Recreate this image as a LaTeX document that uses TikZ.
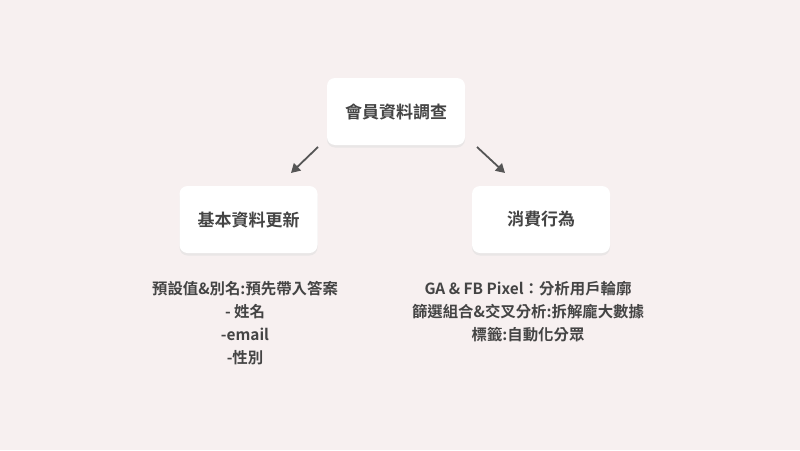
\documentclass[tikz,border=0pt]{standalone}
\usepackage{fontspec}
\newfontfamily\cjk[BoldFont={Noto Sans CJK TC Bold}]{Noto Sans CJK TC}
\usetikzlibrary{arrows.meta}
\definecolor{bg}{HTML}{F7F0F0}
\definecolor{txt}{HTML}{444444}
\definecolor{arr}{HTML}{555555}
\tikzset{
  card/.style={fill=white, rounded corners=8pt, minimum width=138pt, minimum height=67pt, inner sep=0pt,
    font=\cjk\bfseries\fontsize{17}{20}\selectfont, text=txt},
  cardshadow/.style={fill=black!12, rounded corners=8pt, minimum width=138pt, minimum height=67pt, inner sep=0pt, opacity=0.6},
  desc/.style={font=\cjk\bfseries\fontsize{15.4}{23}\selectfont, text=txt, align=center, inner sep=0pt},
  link/.style={draw=arr, line width=1.8pt, -{Triangle[length=9pt,width=10pt]}}
}
\begin{document}
\begin{tikzpicture}[x=1pt,y=-1pt]
\fill[bg] (0,0) rectangle (800,450);
\useasboundingbox (0,0) rectangle (800,450);
% shadows
\node[cardshadow] (tops) at (396,114) {};
\node[cardshadow] (lefts) at (248.5,222) {};
\node[cardshadow] (rights) at (541,222) {};
% cards
\node[card] (top) at (396,111.5) {會員資料調查};
\node[card] (left) at (248.5,219.5) {基本資料更新};
\node[card] (right) at (541,219.5) {消費行為};
% arrows
\coordinate (a1s) at (318,147);
\coordinate (a1e) at (291,173);
\coordinate (a2s) at (477,147);
\coordinate (a2e) at (505,173);
\draw[link] (a1s) -- (a1e);
\draw[link] (a2s) -- (a2e);
% descriptions
\node[desc, anchor=north] (ldesc) at (245,281) {預設值\&別名:預先帶入答案\\- 姓名\\-email\\-性別};
\node[desc, anchor=north] (rdesc) at (528,281) {GA \& FB Pixel：分析用戶輪廓\\篩選組合\&交叉分析:拆解龐大數據\\標籤:自動化分眾};
\end{tikzpicture}
\end{document}
